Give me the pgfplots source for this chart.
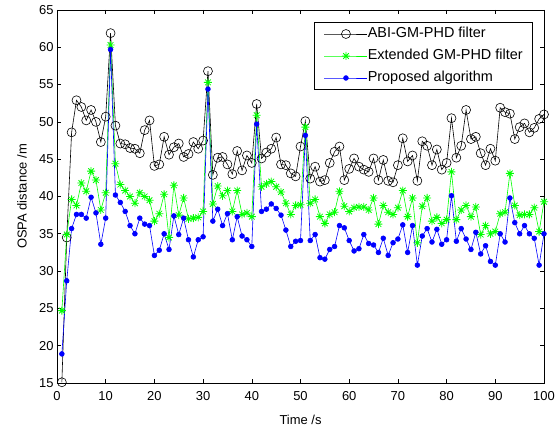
\documentclass[border=0pt]{standalone}
\usepackage{fontspec}
\setmainfont{Liberation Sans}
\usepackage{pgfplots}
\pgfplotsset{compat=1.18}
\pgfdeclareplotmark{mstar}{%
  \pgfpathmoveto{\pgfqpoint{-\pgfplotmarksize}{0pt}}\pgfpathlineto{\pgfqpoint{\pgfplotmarksize}{0pt}}%
  \pgfpathmoveto{\pgfqpoint{0pt}{-\pgfplotmarksize}}\pgfpathlineto{\pgfqpoint{0pt}{\pgfplotmarksize}}%
  \pgfpathmoveto{\pgfqpoint{-.7071\pgfplotmarksize}{-.7071\pgfplotmarksize}}\pgfpathlineto{\pgfqpoint{.7071\pgfplotmarksize}{.7071\pgfplotmarksize}}%
  \pgfpathmoveto{\pgfqpoint{-.7071\pgfplotmarksize}{.7071\pgfplotmarksize}}\pgfpathlineto{\pgfqpoint{.7071\pgfplotmarksize}{-.7071\pgfplotmarksize}}%
  \pgfusepathqstroke}
\definecolor{mgreen}{rgb}{0,1,0}
\definecolor{mblue}{rgb}{0,0,1}
\begin{document}
\begin{tikzpicture}
\begin{axis}[
  at={(0,0)}, anchor=south west, scale only axis,
  width=487bp, height=373bp,
  xmin=0, xmax=100, ymin=15, ymax=65,
  xtick={0,10,...,100}, ytick={15,20,...,65},
  tick align=inside, major tick length=4.5bp,
  axis line style={line width=0.7bp},
  every tick/.style={black, line width=0.6bp},
  /pgf/number format/assume math mode=true,
  tick label style={font=\fontsize{13}{15}\selectfont},
  xticklabel style={anchor=base, yshift=-17bp},
  xlabel={Time /s}, ylabel={OSPA distance /m},
  every axis x label/.style={at={(axis description cs:0.5,0)}, anchor=base, yshift=-41bp, font=\fontsize{13}{15}\selectfont},
  every axis y label/.style={at={([xshift=-35bp]axis description cs:0,0.5)}, rotate=90, anchor=center, font=\fontsize{13}{15}\selectfont},
  legend cell align=left,
  legend style={at={(1,1)}, anchor=north east, xshift=-11bp, yshift=-12bp,
    draw=black, line width=0.6bp, font=\fontsize{14.5}{16}\selectfont,
    inner xsep=10bp, inner ysep=5bp, row sep=8.6bp,
    nodes={inner sep=0pt, text height=10.4bp, text depth=3bp},
    /tikz/every even column/.append style={column sep=6bp}},
  legend image code/.code={\draw[mark repeat=2, mark phase=2, #1] plot coordinates {(0bp,0bp) (21.5bp,0bp) (43bp,0bp)};},
]
\addplot[black, line width=0.6bp, mark=o, mark size=4.5bp, mark options={line width=0.6bp}] table {
1 15.1
2 34.5
3 48.6
4 52.9
5 52.0
6 50.2
7 51.6
8 50.0
9 47.3
10 50.7
11 61.9
12 49.5
13 47.1
14 47.0
15 46.5
16 46.4
17 45.8
18 48.9
19 50.2
20 44.1
21 44.3
22 48.0
23 45.6
24 46.6
25 47.1
26 45.3
27 45.7
28 47.3
29 46.4
30 47.5
31 56.8
32 42.9
33 45.2
34 45.3
35 44.3
36 43.0
37 46.1
38 43.5
39 45.5
40 44.5
41 52.4
42 45.1
43 45.9
44 46.4
45 47.9
46 44.3
47 44.2
48 43.1
49 42.7
50 46.7
51 50.1
52 42.4
53 44.0
54 42.0
55 42.2
56 44.5
57 46.0
58 46.7
59 42.2
60 43.7
61 45.1
62 44.0
63 43.6
64 43.3
65 45.1
66 42.2
67 44.9
68 42.1
69 41.9
70 44.2
71 47.8
72 44.7
73 45.5
74 42.1
75 47.4
76 46.8
77 44.2
78 46.3
79 43.6
80 44.5
81 50.5
82 45.2
83 46.8
84 51.6
85 47.7
86 48.0
87 45.8
88 44.2
89 46.4
90 44.8
91 51.9
92 51.3
93 51.1
94 47.7
95 49.3
96 49.8
97 48.6
98 49.2
99 50.4
100 51.0
};
\addlegendentry{ABI-GM-PHD filter}
\addplot[mgreen, line width=0.6bp, mark=mstar, mark size=4bp, mark options={line width=0.8bp}] table {
1 24.7
2 34.9
3 39.6
4 38.8
5 41.8
6 40.7
7 43.4
8 42.2
9 38.2
10 40.5
11 60.3
12 44.4
13 41.6
14 40.8
15 40.0
16 39.1
17 40.5
18 40.0
19 39.5
20 36.7
21 37.7
22 40.3
23 34.5
24 41.5
25 37.5
26 39.8
27 37.0
28 37.1
29 37.2
30 38.0
31 55.3
32 39.0
33 41.4
34 40.1
35 40.8
36 38.0
37 40.8
38 37.6
39 37.8
40 37.3
41 50.9
42 41.3
43 41.7
44 42.0
45 41.3
46 40.6
47 39.1
48 37.6
49 38.8
50 38.9
51 49.3
52 39.1
53 39.6
54 37.3
55 36.4
56 37.6
57 37.9
58 40.7
59 38.7
60 38.0
61 38.5
62 38.6
63 38.6
64 38.2
65 39.8
66 36.3
67 38.8
68 37.9
69 37.6
70 38.5
71 40.8
72 37.3
73 39.8
74 33.8
75 38.7
76 39.8
77 36.7
78 37.2
79 36.4
80 36.9
81 43.3
82 36.9
83 38.2
84 38.8
85 37.3
86 38.6
87 34.9
88 36.1
89 35.0
90 35.3
91 37.7
92 37.9
93 43.1
94 38.8
95 37.5
96 37.6
97 37.6
98 38.5
99 35.3
100 39.3
};
\addlegendentry{Extended GM-PHD filter}
\addplot[mblue, line width=0.6bp, mark=*, mark size=2.4bp, mark options={draw=mblue, fill=mblue}] table {
1 18.9
2 28.7
3 35.7
4 37.6
5 37.6
6 37.1
7 39.9
8 37.8
9 33.6
10 37.1
11 59.7
12 40.2
13 39.2
14 38.0
15 36.1
16 35.0
17 37.1
18 36.3
19 36.1
20 32.1
21 32.8
22 35.0
23 32.9
24 37.4
25 34.9
26 37.1
27 34.2
28 31.9
29 34.2
30 34.6
31 54.4
32 36.7
33 38.3
34 36.1
35 37.7
36 34.2
37 37.3
38 34.7
39 34.2
40 33.3
41 49.7
42 38.0
43 38.3
44 39.0
45 38.4
46 37.5
47 35.5
48 33.3
49 34.0
50 34.1
51 48.2
52 34.1
53 34.9
54 31.8
55 31.6
56 32.9
57 33.3
58 36.1
59 35.8
60 34.1
61 32.7
62 33.0
63 34.9
64 33.7
65 33.5
66 32.5
67 34.4
68 32.1
69 33.8
70 34.3
71 36.2
72 32.5
73 36.1
74 30.8
75 34.7
76 35.7
77 33.9
78 35.6
79 33.6
80 34.2
81 40.1
82 34.0
83 35.7
84 34.3
85 32.9
86 35.2
87 32.3
88 33.4
89 31.3
90 30.8
91 35.0
92 33.9
93 39.8
94 36.5
95 35.0
96 36.1
97 35.0
98 34.4
99 30.8
100 35.0
};
\addlegendentry{Proposed algorithm}
\end{axis}
\pgfresetboundingbox
\path (-57bp,-45bp) rectangle (500bp,383bp);
\end{tikzpicture}
\end{document}
